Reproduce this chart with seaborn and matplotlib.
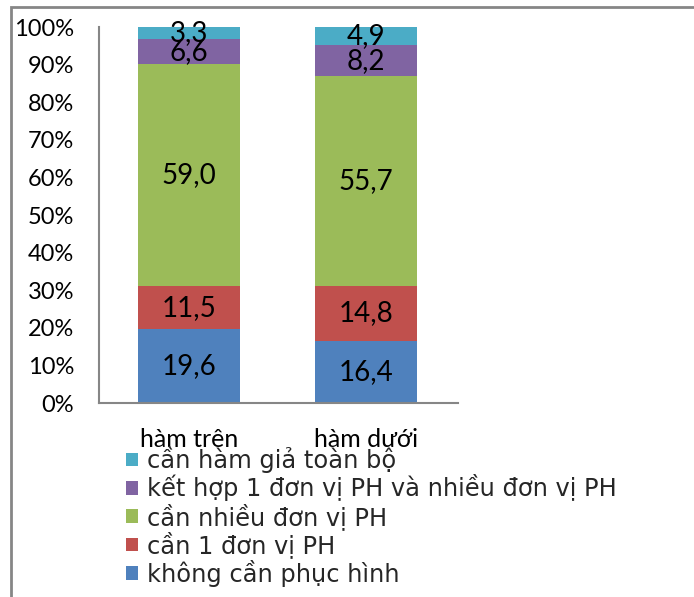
import matplotlib
matplotlib.use("Agg")
import matplotlib.pyplot as plt
import seaborn as sns
import numpy as np
import pandas as pd
from matplotlib.patches import Rectangle

categories = ["hàm trên", "hàm dưới"]
series_names = ["cần hàm giả toàn bộ",
                "kết hợp 1 đơn vị PH và nhiều đơn vị PH",
                "cần nhiều đơn vị PH",
                "cần 1 đơn vị PH",
                "không cần phục hình"]
# values bottom -> top
khong_can = [19.6, 16.4]
can_1 = [11.5, 14.8]
can_nhieu = [59.0, 55.7]
ket_hop = [6.6, 8.2]
ham_gia = [3.3, 4.9]
label_texts = {
    "khong": ["19,6", "16,4"],
    "can1": ["11,5", "14,8"],
    "nhieu": ["59,0", "55,7"],
    "kethop": ["6,6", "8,2"],
    "hamgia": ["3,3", "4,9"],
}
yticks = [0, 10, 20, 30, 40, 50, 60, 70, 80, 90, 100]
ytick_labels = ["0%", "10%", "20%", "30%", "40%", "50%", "60%", "70%", "80%", "90%", "100%"]

colors = ["#4F81BD", "#C0504D", "#9BBB59", "#8064A2", "#4BACC6"]  # bottom->top

sns.set_theme(style="white")
plt.rcParams['font.family'] = ['Lato', 'DejaVu Sans']

fig = plt.figure(figsize=(6.94, 5.97), dpi=100)
ax = fig.add_axes([99/694, 1-403/597, (458-99)/694, (403-27)/597])

stack = [khong_can, can_1, can_nhieu, ket_hop, ham_gia]
keys = ["khong", "can1", "nhieu", "kethop", "hamgia"]
names_bt = list(reversed(series_names))
cum = np.cumsum(np.array(stack), axis=0)

# draw from top down so lower segments overlay
for i in range(len(stack) - 1, -1, -1):
    df = pd.DataFrame({"cat": categories, "val": cum[i]})
    sns.barplot(data=df, x="cat", y="val", color=colors[i], saturation=1,
                width=0.573, label=names_bt[i], ax=ax, linewidth=0)

# data labels
for i, k in enumerate(keys):
    bottoms = cum[i] - np.array(stack[i])
    for j in range(len(categories)):
        ax.text(j, bottoms[j] + stack[i][j] / 2, label_texts[k][j],
                ha="center", va="center", fontsize=20, color="black")

ax.set_ylim(0, 100)
ax.set_xlim(-0.506, 1.517)
ax.set_yticks(yticks)
ax.set_yticklabels(ytick_labels)
ax.set_xlabel("")
ax.set_ylabel("")
ax.tick_params(axis="y", length=0, pad=18, labelsize=17, colors="black")
ax.tick_params(axis="x", length=0, pad=18, labelsize=18, colors="black")
for s in ["top", "right"]:
    ax.spines[s].set_visible(False)
for s in ["left", "bottom"]:
    ax.spines[s].set_color("#868686")
    ax.spines[s].set_linewidth(1.5)
if ax.get_legend() is not None:
    ax.get_legend().remove()

handles, labels = ax.get_legend_handles_labels()
leg = fig.legend(handles, labels, loc="upper left",
                 bbox_to_anchor=(126/694, 1-446/597), frameon=False,
                 prop={"family": ["DejaVu Sans"], "size": 17.4},
                 handlelength=0.5, handleheight=0.5, handletextpad=0.35,
                 labelspacing=0.06, borderpad=0, borderaxespad=0)

# outer frame
fig.patches.append(Rectangle((11/694, -0.05), 1.2, 1 - 7/597 + 0.05,
                             transform=fig.transFigure, fill=False,
                             edgecolor="#868686", linewidth=2))

fig.savefig("out.png", dpi=100)
